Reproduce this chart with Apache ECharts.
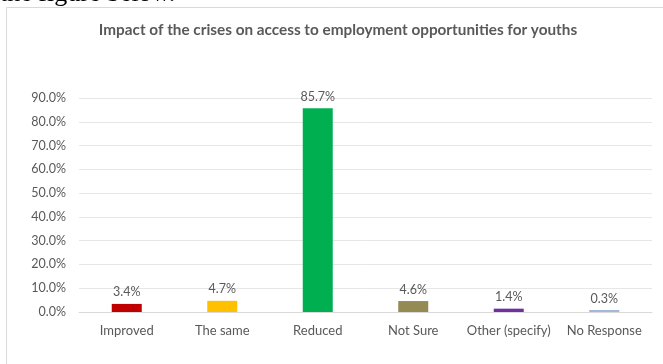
<!DOCTYPE html>
<html><head><meta charset="utf-8">
<script src="https://cdn.jsdelivr.net/npm/echarts@6/dist/echarts.min.js"></script>
<style>html,body{margin:0;padding:0;background:#fff}#c{width:663px;height:364px}</style>
</head><body><div id="c"></div>
<script>
const categories = ['Improved','The same','Reduced','Not Sure','Other (specify)','No Response'];
const values = [3.4, 4.7, 85.7, 4.6, 1.4, 0.3];
const barColors = ['#C00000','#FFC000','#00B050','#948A54','#7030A0','#A2B8D6'];
const yTicks = [0,10,20,30,40,50,60,70,80,90];
const titleText = 'Impact of the crises on access to employment opportunities for youths';
const FONT = 'Lato, "Open Sans", sans-serif';
const chart = echarts.init(document.getElementById('c'));
chart.setOption({
  animation:false,
  graphic:[
    {type:'rect',shape:{x:6.5,y:7.5,width:700,height:400},style:{fill:'none',stroke:'#D9D9D9',lineWidth:1},silent:true},
    {type:'text',x:0,y:7,style:{text:'the figure below.',font:'26px "Liberation Serif", serif',fill:'#000',verticalAlign:'bottom'},silent:true},
    {type:'text',x:338,y:30,style:{text:titleText,font:'bold 15.3px Lato, sans-serif',fill:'#595959',align:'center',verticalAlign:'middle'},silent:true}
  ],
  grid:{left:79,right:11,top:98,bottom:52},
  xAxis:{type:'category',data:categories,axisTick:{show:false},
    axisLine:{lineStyle:{color:'#D9D9D9'}},
    axisLabel:{color:'#595959',fontSize:13,fontFamily:FONT,margin:12,interval:0}},
  yAxis:{type:'value',min:0,max:90,interval:10,
    axisLabel:{color:'#595959',fontSize:12.5,fontFamily:FONT,margin:13,formatter:v=>v.toFixed(1)+'%'},
    splitLine:{lineStyle:{color:'#E6E6E6'}},axisLine:{show:false},axisTick:{show:false}},
  series:[{type:'bar',barWidth:30,barMinHeight:2,
    data:values.map((v,i)=>({value:v,itemStyle:{color:barColors[i]}})),
    label:{show:true,position:'top',distance:5,color:'#595959',fontSize:12.5,fontFamily:FONT,formatter:p=>p.value.toFixed(1)+'%'}}]
});
</script></body></html>
